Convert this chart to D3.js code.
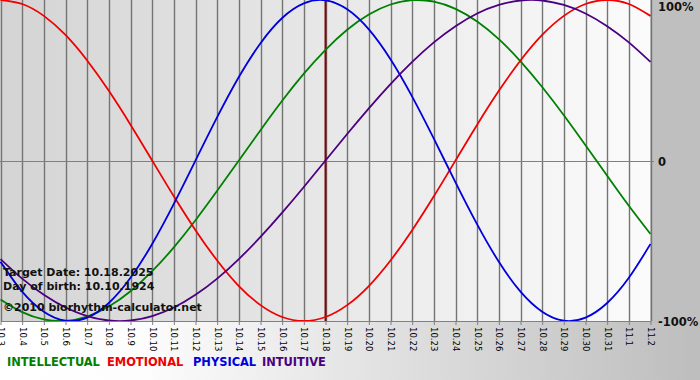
<!DOCTYPE html>
<html>
<head>
<meta charset="utf-8">
<script src="https://cdnjs.cloudflare.com/ajax/libs/d3/7.8.5/d3.min.js"></script>
<style>
  body { margin: 0; padding: 0; background: #fff; }
  svg { display: block; }
</style>
</head>
<body>
<svg id="chart"></svg>
<script>
// Data (one value per day, -1..1)
const dates = ["10.3","10.4","10.5","10.6","10.7","10.8","10.9","10.10","10.11","10.12",
    "10.13","10.14","10.15","10.16","10.17","10.18","10.19","10.20","10.21","10.22",
    "10.23","10.24","10.25","10.26","10.27","10.28","10.29","10.30","10.31","11.1","11.2"];

const intellectual = [-0.866,-0.945,-0.990,-0.999,-0.972,-0.910,-0.815,-0.690,-0.541,-0.372,
    -0.189,0.000,0.189,0.372,0.541,0.690,0.815,0.910,0.972,0.999,
    0.990,0.945,0.866,0.756,0.618,0.458,0.282,0.095,-0.095,-0.282,-0.458];

const emotional = [1.000,0.975,0.901,0.782,0.623,0.434,0.223,0.000,-0.223,-0.434,
    -0.623,-0.782,-0.901,-0.975,-1.000,-0.975,-0.901,-0.782,-0.623,-0.434,
    -0.223,0.000,0.223,0.434,0.623,0.782,0.901,0.975,1.000,0.975,0.901];

const physical = [-0.631,-0.817,-0.942,-0.998,-0.979,-0.888,-0.731,-0.520,-0.270,0.000,
    0.270,0.520,0.731,0.888,0.979,0.998,0.942,0.817,0.631,0.398,
    0.136,-0.136,-0.398,-0.631,-0.817,-0.942,-0.998,-0.979,-0.888,-0.731,-0.520];

const intuitive = [-0.614,-0.736,-0.837,-0.916,-0.969,-0.997,-0.997,-0.969,-0.916,-0.837,
    -0.736,-0.614,-0.476,-0.325,-0.165,0.000,0.165,0.325,0.476,0.614,
    0.736,0.837,0.916,0.969,0.997,0.997,0.969,0.916,0.837,0.736,0.614];

const yTicks = [1, 0, -1];
const yTickLabels = ["100%", "0", "-100%"];

const targetDate = "10.18";
const infoLines = ["Target Date: 10.18.2025", "Day of birth: 10.10.1924", "\u00a92010 biorhythm-calculator.net"];

const seriesNames = ["INTELLECTUAL", "EMOTIONAL", "PHYSICAL", "INTUITIVE"];

// Canvas
const width = 700;
const height = 380;
const graphWidth = 650;
const graphHeight = 321;

const svg = d3.select("#chart")
    .attr("width", width)
    .attr("height", height);

const defs = svg.append("defs");

const bgGrad = defs.append("linearGradient").attr("id", "bgGrad")
    .attr("x1", "0%").attr("x2", "100%").attr("y1", "0%").attr("y2", "0%");
bgGrad.append("stop").attr("offset", "0%").attr("stop-color", "#ffffff");
bgGrad.append("stop").attr("offset", "20%").attr("stop-color", "#fdfdfd");
bgGrad.append("stop").attr("offset", "100%").attr("stop-color", "#bdbdbd");

const plotGrad = defs.append("linearGradient").attr("id", "plotGrad")
    .attr("x1", "0%").attr("x2", "100%").attr("y1", "0%").attr("y2", "0%");
plotGrad.append("stop").attr("offset", "0%").attr("stop-color", "#d4d4d4");
plotGrad.append("stop").attr("offset", "100%").attr("stop-color", "#fbfbfb");

defs.append("clipPath").attr("id", "plotClip")
    .append("rect")
    .attr("x", 0).attr("y", 0)
    .attr("width", graphWidth + 1).attr("height", graphHeight);

svg.append("rect")
    .attr("width", width).attr("height", height)
    .attr("fill", "url(#bgGrad)");

// right column is flat grey
svg.append("rect")
    .attr("x", graphWidth + 1).attr("y", 0)
    .attr("width", width - graphWidth - 1).attr("height", graphHeight + 2)
    .attr("fill", "#bfbfbf");

const graphGroup = svg.append("g");

graphGroup.append("rect")
    .attr("width", graphWidth).attr("height", graphHeight)
    .attr("fill", "url(#plotGrad)");

// Scales
const xScale = d3.scalePoint()
    .domain(dates)
    .range([0.5, graphWidth + 0.5]);

const yScale = d3.scaleLinear()
    .domain([-1, 1])
    .range([graphHeight, 0]);

// Vertical grid + x axis
const xAxis = d3.axisBottom(xScale)
    .tickSize(4)
    .tickSizeOuter(0);

const xAxisGroup = graphGroup.append("g")
    .attr("transform", `translate(0, ${graphHeight})`)
    .call(xAxis);

xAxisGroup.select(".domain").attr("stroke", "#808080");
xAxisGroup.selectAll(".tick line").attr("stroke", "#808080");
xAxisGroup.selectAll("text")
    .attr("transform", "rotate(90)")
    .attr("x", 6)
    .attr("y", 0)
    .attr("dy", "0.35em")
    .attr("text-anchor", "start")
    .attr("fill", "#000")
    .style("font-family", "'DejaVu Sans', Verdana, sans-serif")
    .style("font-size", "8.5px");

graphGroup.append("g")
    .selectAll("line")
    .data(dates)
    .enter()
    .append("line")
    .attr("x1", d => Math.round(xScale(d)) + 0.5)
    .attr("x2", d => Math.round(xScale(d)) + 0.5)
    .attr("y1", 0)
    .attr("y2", graphHeight)
    .attr("stroke", "#747474")
    .attr("stroke-width", 1.4);

// Zero line
graphGroup.append("line")
    .attr("x1", 0).attr("x2", graphWidth + 4)
    .attr("y1", Math.round(yScale(0)) + 0.5)
    .attr("y2", Math.round(yScale(0)) + 0.5)
    .attr("stroke", "#808080")
    .attr("stroke-width", 1.2);

// Right side labels
graphGroup.selectAll(".ylab")
    .data(yTicks)
    .enter()
    .append("text")
    .attr("class", "ylab")
    .attr("x", graphWidth + 8)
    .attr("y", d => yScale(d) + (d === 1 ? 11 : 5))
    .text((d, i) => yTickLabels[i])
    .style("font-family", "'DejaVu Sans', Verdana, sans-serif")
    .style("font-weight", "bold")
    .style("font-size", "11.5px")
    .attr("fill", "#111");

// Target date marker
graphGroup.append("line")
    .attr("x1", xScale(targetDate)).attr("x2", xScale(targetDate))
    .attr("y1", 0).attr("y2", graphHeight)
    .attr("stroke", "#7a0a0a")
    .attr("stroke-width", 2);

// Curves
const series = [
    { values: intellectual, color: "#008000" },
    { values: emotional, color: "#f00000" },
    { values: physical, color: "#0000dd" },
    { values: intuitive, color: "#4b0082" }
];

const line = d3.line()
    .x((d, i) => xScale(dates[i]))
    .y(d => yScale(d))
    .curve(d3.curveNatural);

const curveGroup = graphGroup.append("g").attr("clip-path", "url(#plotClip)");

curveGroup.selectAll("path")
    .data(series)
    .enter()
    .append("path")
    .attr("d", d => line(d.values))
    .attr("fill", "none")
    .attr("stroke", d => d.color)
    .attr("stroke-width", 1.8);

// Info text
graphGroup.selectAll(".info")
    .data(infoLines)
    .enter()
    .append("text")
    .attr("class", "info")
    .attr("x", 3)
    .attr("y", (d, i) => [276, 290, 311][i])
    .text(d => d)
    .style("font-family", "'DejaVu Sans', Verdana, sans-serif")
    .style("font-weight", "bold")
    .style("font-size", "11px")
    .attr("fill", "#111");

// Legend
const legendX = [7, 107, 193, 262];
svg.selectAll(".legend")
    .data(seriesNames)
    .enter()
    .append("text")
    .attr("class", "legend")
    .attr("x", (d, i) => legendX[i])
    .attr("y", 366)
    .text(d => d)
    .attr("fill", (d, i) => series[i].color)
    .style("font-family", "'DejaVu Sans Condensed', 'DejaVu Sans', sans-serif")
    .style("font-weight", "bold")
    .style("font-size", "12.7px");
</script>
</body>
</html>
